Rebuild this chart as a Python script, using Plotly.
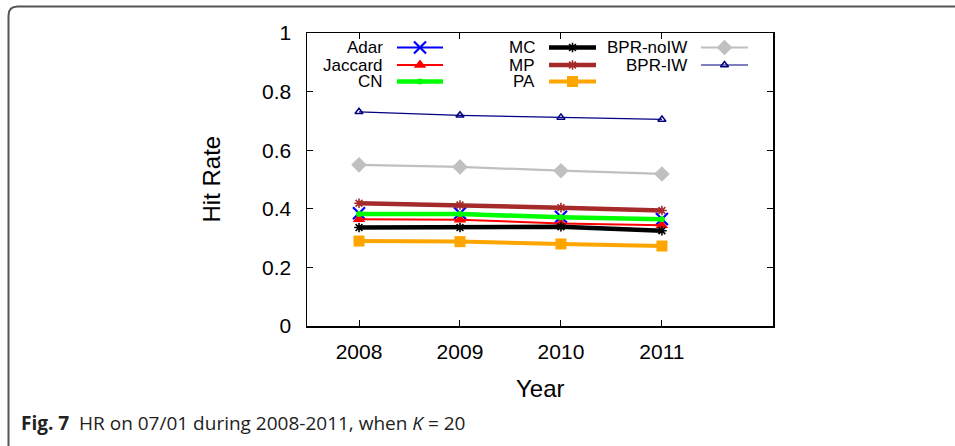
import plotly.graph_objects as go

years = [2008, 2009, 2010, 2011]
series_names = ["Adar", "Jaccard", "CN", "MC", "MP", "PA", "BPR-noIW", "BPR-IW"]
adar = [0.385, 0.385, 0.373, 0.365]
jaccard = [0.364, 0.363, 0.350, 0.344]
cn = [0.382, 0.382, 0.371, 0.364]
mc = [0.336, 0.336, 0.339, 0.325]
mp = [0.419, 0.413, 0.404, 0.394]
pa = [0.290, 0.288, 0.280, 0.273]
bpr_noiw = [0.550, 0.543, 0.530, 0.519]
bpr_iw = [0.731, 0.719, 0.712, 0.705]
values = [adar, jaccard, cn, mc, mp, pa, bpr_noiw, bpr_iw]
y_ticks = [0, 0.2, 0.4, 0.6, 0.8, 1]
y_tick_text = ["0", "0.2", "0.4", "0.6", "0.8", "1"]

styles = [
    dict(color="#0000FF", width=2, symbol="x-thin", size=12, mline=2.2),
    dict(color="#FF0000", width=2, symbol="triangle-up", size=11, mline=0),
    dict(color="#00FF00", width=4.5, symbol="circle", size=6, mline=0),
    dict(color="#000000", width=4.5, symbol="asterisk", size=8, mline=1.6),
    dict(color="#A52A2A", width=4.5, symbol="asterisk", size=8, mline=1.6),
    dict(color="#FFA500", width=4, symbol="square", size=11, mline=0),
    dict(color="#C0C0C0", width=2.2, symbol="diamond", size=12, mline=0),
    dict(color="#000080", width=1.2, symbol="triangle-up-open", size=7, mline=1.5),
]

W, H = 955, 446
L, R, T, B = 307, 773, 33, 326

fig = go.Figure()
for name, vals, st in zip(series_names, values, styles):
    fig.add_trace(go.Scatter(
        x=years, y=vals, name=name, mode="lines+markers",
        line=dict(color=st["color"], width=st["width"]),
        marker=dict(symbol=st["symbol"], size=st["size"], color=st["color"],
                    line=dict(color=st["color"], width=st["mline"])),
        showlegend=False, cliponaxis=False,
    ))

# legend (gnuplot style: label right, sample to the right), in pixel space via overlay axes
legend_cols = [(385, 397, 443), (537, 549, 596), (689, 701, 748)]
legend_rows = [47.5, 65, 81.5]
annotations = []
for i, (name, st) in enumerate(zip(series_names, styles)):
    col, row = divmod(i, 3)
    lx, sx0, sx1 = legend_cols[col]
    ly = legend_rows[row]
    fig.add_trace(go.Scatter(
        x=[sx0, sx1], y=[ly, ly], xaxis="x2", yaxis="y2", mode="lines",
        line=dict(color=st["color"], width=st["width"]), showlegend=False,
        hoverinfo="skip"))
    fig.add_trace(go.Scatter(
        x=[(sx0 + sx1) / 2], y=[ly], xaxis="x2", yaxis="y2", mode="markers",
        marker=dict(symbol=st["symbol"], size=st["size"], color=st["color"],
                    line=dict(color=st["color"], width=st["mline"])),
        showlegend=False, hoverinfo="skip"))
    annotations.append(dict(x=lx, y=ly, xref="x2", yref="y2", text=name,
                            showarrow=False, xanchor="right", yanchor="middle",
                            font=dict(size=17, color="black",
                                      family="Liberation Sans, Arial, sans-serif")))

def px(x):
    return (x - L) / (R - L)

def py(y):
    return (B - y) / (B - T)

# axis titles
annotations.append(dict(x=px(540), y=py(388), xref="paper", yref="paper", text="Year",
                        showarrow=False, xanchor="center", yanchor="middle",
                        font=dict(size=24, color="black",
                                  family="Liberation Sans, Arial, sans-serif")))
annotations.append(dict(x=px(211), y=py(179.5), xref="paper", yref="paper", text="Hit Rate",
                        showarrow=False, xanchor="center", yanchor="middle", textangle=-90,
                        font=dict(size=24, color="black",
                                  family="Liberation Sans, Arial, sans-serif")))
# caption
annotations.append(dict(x=px(19), y=py(423), xref="paper", yref="paper",
                        text="<b>Fig. 7</b>  HR on 07/01 during 2008-2011, when <i>K</i> = 20",
                        showarrow=False, xanchor="left", yanchor="middle",
                        font=dict(size=19, color="#222222",
                                  family="Open Sans, Noto Sans, sans-serif")))

# outer figure frame with rounded top-left corner
fx0, fy0, fx1, fy1, rr = 8.5, 6.5, 955, 446, 9
frame_path = (f"M {px(fx0)},{py(fy1)} L {px(fx0)},{py(fy0 + rr)} "
              f"Q {px(fx0)},{py(fy0)} {px(fx0 + rr)},{py(fy0)} L {px(fx1)},{py(fy0)}")
shapes = [dict(type="path", path=frame_path, xref="paper", yref="paper",
               line=dict(color="#555555", width=2))]

axis_font = dict(size=21, color="black", family="Liberation Sans, Arial, sans-serif")
fig.update_layout(
    width=W, height=H,
    margin=dict(l=L, r=W - R, t=T, b=H - B),
    paper_bgcolor="white", plot_bgcolor="white",
    showlegend=False,
    xaxis=dict(range=[2007.485, 2012.1], tickvals=years, ticktext=[str(y) for y in years],
               ticks="inside", ticklen=6, tickwidth=1, tickcolor="black",
               showline=True, linecolor="black", linewidth=1.5, mirror="ticks",
               showgrid=False, zeroline=False, tickfont=axis_font, ticklabelstandoff=6),
    yaxis=dict(range=[0, 1], tickvals=y_ticks, ticktext=y_tick_text,
               ticks="inside", ticklen=6, tickwidth=1, tickcolor="black",
               showline=True, linecolor="black", linewidth=1.5, mirror="ticks",
               showgrid=False, zeroline=False, tickfont=axis_font, ticklabelstandoff=10),
    xaxis2=dict(range=[L, R], overlaying="x", visible=False, fixedrange=True),
    yaxis2=dict(range=[B, T], overlaying="y", visible=False, fixedrange=True),
    annotations=annotations,
    shapes=shapes,
)

fig.write_html(
    "out.html",
    config={"displayModeBar": False, "staticPlot": True},
    post_script="document.body.style.margin='0';document.body.style.overflow='hidden';",
)
